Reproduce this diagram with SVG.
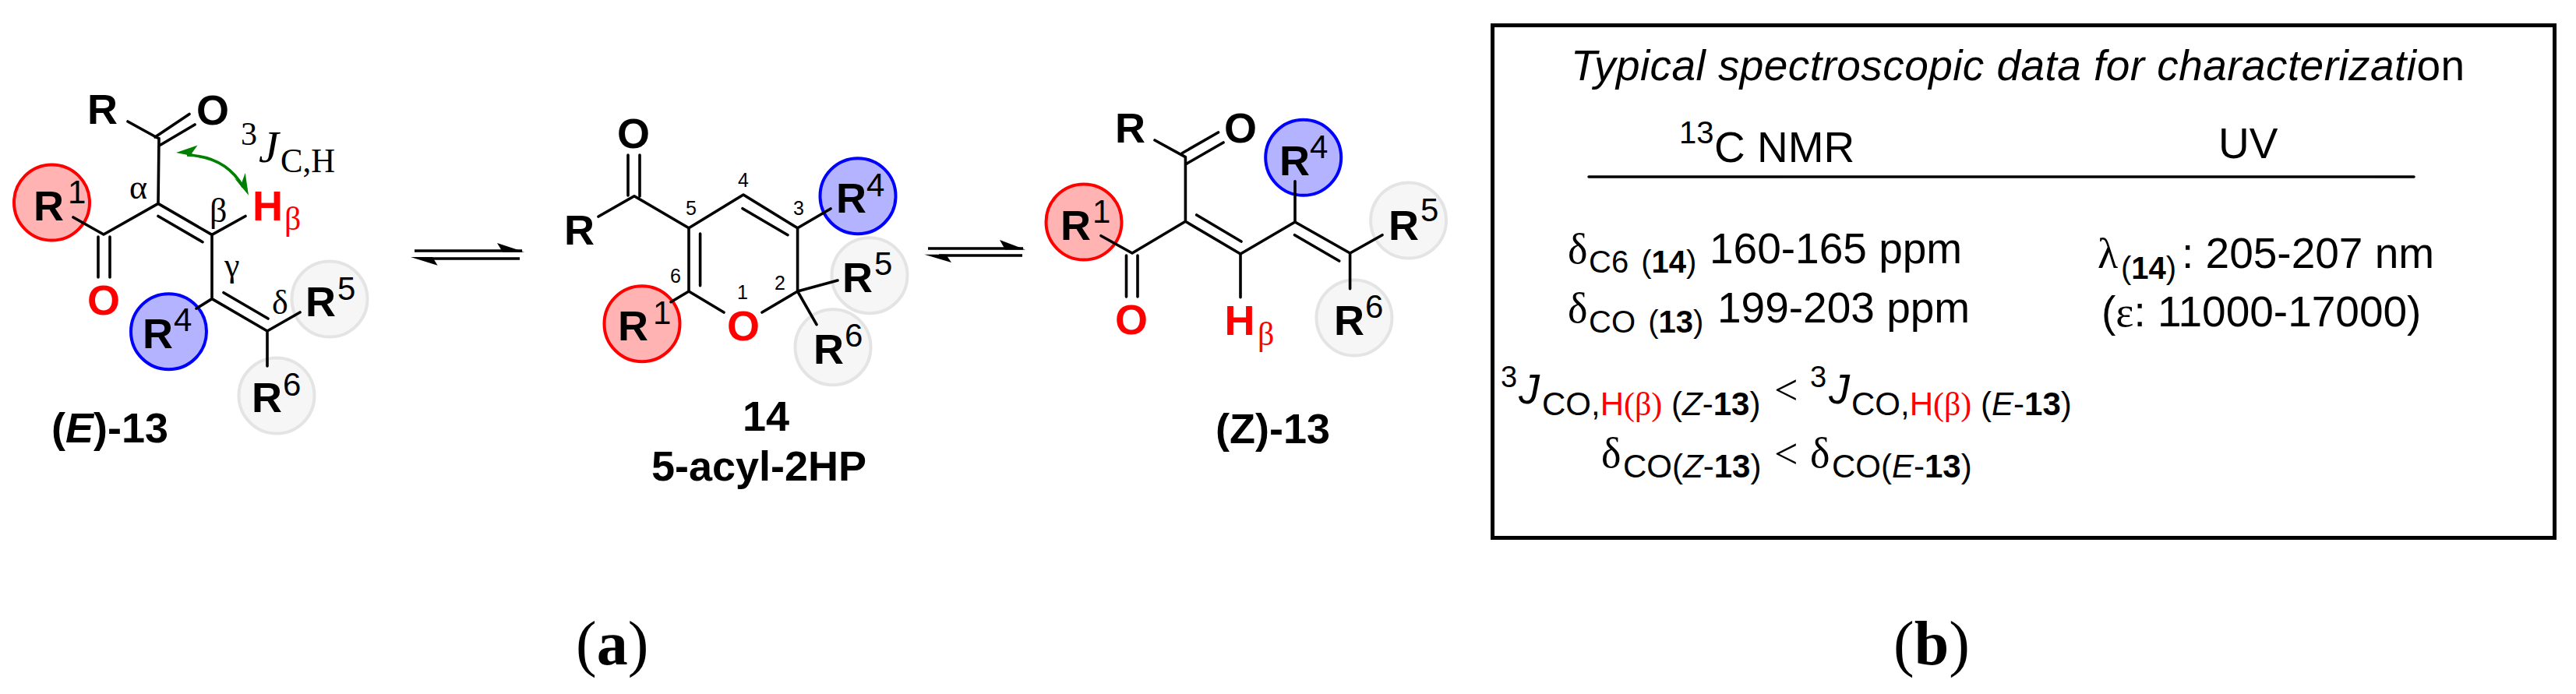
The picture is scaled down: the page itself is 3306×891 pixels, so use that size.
<svg xmlns="http://www.w3.org/2000/svg" width="3306" height="891" viewBox="0 0 3306 891">
<style>
text{font-family:"Liberation Sans",Arial,sans-serif;fill:#000}
.a{font-size:54px;font-weight:700}
.s{font-size:42px}
.c{text-anchor:middle}
.red{fill:#f00}
.g{font-family:"Liberation Serif","Times New Roman",serif;font-size:44px}
.n{font-size:25px}
.t{font-size:55px}
.sub{font-size:40px}
.sb{font-size:42px}
.sup{font-size:38px}
.i{font-style:italic}
.b{font-weight:700}
.ser{font-family:"Liberation Serif","Times New Roman",serif}
.r1{fill:#ffb3b3;stroke:#f00;stroke-width:4}
.r4{fill:#b3b3ff;stroke:#00f;stroke-width:4}
.r5{fill:#f6f6f6;stroke:#e4e4e4;stroke-width:4}
.bond{fill:none;stroke:#000;stroke-width:3.6;stroke-linecap:round;stroke-linejoin:round}
</style>

<g id="E13">
<g id="E13-R1"><circle class="r1" cx="66.5" cy="260" r="48.5"/><text class="a" x="43" y="283">R</text><text class="s" x="87" y="261">1</text></g>
<g id="E13-R4"><circle class="r4" cx="216.5" cy="425.7" r="48.5"/><text class="a" x="183" y="447">R</text><text class="s" x="223" y="425">4</text></g>
<g id="E13-R5"><circle class="r5" cx="423" cy="384" r="48.5"/><text class="a" x="392" y="406">R</text><text class="s" x="433" y="385">5</text></g>
<g id="E13-R6"><circle class="r5" cx="355" cy="508" r="48.5"/><text class="a" x="323" y="529">R</text><text class="s" x="363" y="508">6</text></g>
<g id="E13-R"><text class="a" x="112" y="159">R</text></g>
<g id="E13-O1"><text class="a" x="273" y="160" text-anchor="middle">O</text></g>
<g id="E13-O2"><text class="a red" x="133" y="404" text-anchor="middle">O</text></g>
<g id="E13-H"><text class="a red" x="324" y="283">H</text><text class="ser red" x="365" y="295" font-size="42">β</text></g>
<g id="E13-greek"><text class="g" x="166" y="255">α</text><text class="g" x="269" y="285">β</text><text class="g" x="288" y="355">γ</text><text class="g" x="349" y="403">δ</text></g>
<g id="E13-J"><text class="ser" x="309" y="186" font-size="42">3</text><text class="ser i" x="332" y="208" font-size="58">J</text><text class="ser" x="360" y="221" font-size="45" textLength="70" lengthAdjust="spacingAndGlyphs">C,H</text></g>
<g id="E13-label"><text class="a" x="66" y="568">(<tspan font-style="italic">E</tspan>)-13</text></g>
</g>

<g id="P14">
<g id="P14-R1"><circle class="r1" cx="824" cy="415.7" r="48.5"/><text class="a" x="793" y="437">R</text><text class="s" x="838" y="416">1</text></g>
<g id="P14-R4"><circle class="r4" cx="1101" cy="251.7" r="48.5"/><text class="a" x="1073" y="273">R</text><text class="s" x="1112" y="252">4</text></g>
<g id="P14-R5"><circle class="r5" cx="1116" cy="353.7" r="48.5"/><text class="a" x="1081" y="375">R</text><text class="s" x="1122" y="353">5</text></g>
<g id="P14-R6"><circle class="r5" cx="1069" cy="445.7" r="48.5"/><text class="a" x="1044" y="467">R</text><text class="s" x="1084" y="445">6</text></g>
<g id="P14-R"><text class="a" x="724" y="314">R</text></g>
<g id="P14-O1"><text class="a" x="813" y="190" text-anchor="middle">O</text></g>
<g id="P14-O2"><text class="a red" x="954" y="437" text-anchor="middle">O</text></g>
<g id="P14-numbers"><text class="n" x="947" y="240">4</text><text class="n" x="880" y="276">5</text><text class="n" x="1018" y="276">3</text><text class="n" x="860" y="363">6</text><text class="n" x="994" y="372">2</text><text class="n" x="946" y="384">1</text></g>
<g id="P14-label"><text class="a c" x="983" y="553">14</text><text class="a c" x="974" y="617">5-acyl-2HP</text></g>
</g>

<g id="Z13">
<g id="Z13-R1"><circle class="r1" cx="1391" cy="285" r="48.5"/><text class="a" x="1361" y="307.7">R</text><text class="s" x="1402" y="285.7">1</text></g>
<g id="Z13-R4"><circle class="r4" cx="1672.7" cy="202.3" r="48.5"/><text class="a" x="1642" y="225">R</text><text class="s" x="1681" y="203">4</text></g>
<g id="Z13-R5"><circle class="r5" cx="1807.6" cy="283" r="48.5"/><text class="a" x="1782" y="307.7">R</text><text class="s" x="1823" y="284">5</text></g>
<g id="Z13-R6"><circle class="r5" cx="1738" cy="408" r="48.5"/><text class="a" x="1712" y="430">R</text><text class="s" x="1752" y="408">6</text></g>
<g id="Z13-R"><text class="a" x="1431" y="183">R</text></g>
<g id="Z13-O1"><text class="a" x="1592" y="183" text-anchor="middle">O</text></g>
<g id="Z13-O2"><text class="a red" x="1452" y="429" text-anchor="middle">O</text></g>
<g id="Z13-H"><text class="a red" x="1571.5" y="430">H</text><text class="ser red" x="1614" y="443" font-size="42">β</text></g>
<g id="Z13-label"><text class="a" x="1560" y="569">(Z)-13</text></g>
</g>

<g id="connectors">
<path class="bond" d="M164 156L203 177.500M199 176L243 146.400M206 186L250 160M204 177.500L203 261.400M203 261.400L133 301L94 279M126 304V356M141 304V356M203 261.400L272 301.400M203 277.500L260 310.700M272 301.400L315 277.500M272 301.400V383.600L252 396M272 383.600L343 425M287 375.700L344 409M343 425L385 401M343 425V470"/>
<path class="bond" d="M768 278L814 251.700L884 292.700M806 199V251M821 199V252M884 292.700L954 250L1023.600 292.700M953 267.700L1011 301.700M884 292.700V374M898.600 300V366.700M884 374L929 401M884 374L861 387.700M1023.600 292.700L1066 268M1023.600 292.700V374L978 401M1023.600 374L1075 360M1023.600 374L1048 416.700"/>
<path class="bond" d="M1482 180L1521.400 201.700M1517 196.700L1563.500 170M1522 210.700L1570 183M1521.400 201.700V284.300L1453 325L1413 302.700M1445.500 328V381M1460 328V381M1521.400 284.300L1592 326M1535.700 276L1593 310M1592 326V381.700M1592 326L1662 285V232.700M1662 285L1732.600 325M1661.500 301.700L1718.700 335M1732.600 325L1774 301.700M1732.600 325V370.700"/>
<g id="coupling-arrow"><path d="M240 199Q290 201 312 240" fill="none" stroke="#008000" stroke-width="3.600"/><path d="M226 196L253.600 186.400L246 197L254.500 201.800Z" fill="#008000"/><path d="M319 250.700L314.700 222L310 235L301 229Z" fill="#008000"/></g>
<g id="equilibrium-1"><path d="M532 322H670M550 332H667" fill="none" stroke="#000" stroke-width="3.600"/><path d="M673 323.500L638 312L645 323.500Z"/><path d="M527 330L561.600 340.700L555 330Z"/></g>
<g id="equilibrium-2"><path d="M1191 319H1313M1205 328H1312" fill="none" stroke="#000" stroke-width="3.600"/><path d="M1316 320.500L1283 308L1290 320.500Z"/><path d="M1186.400 326.700L1221 337L1214 326.700Z"/></g>
</g>

<g id="panel-b">
<rect x="1915.500" y="32.500" width="1363" height="658" fill="none" stroke="#000" stroke-width="5"/>
<text class="t i" x="2016" y="102.500" font-size="55" textLength="1147">Typical spectroscopic data for characterizat<tspan>i</tspan><tspan font-style="normal">on</tspan></text>
<g id="col-nmr"><text class="sub" x="2155" y="184">13</text><text class="t" x="2200" y="207.500">C NMR</text></g>
<g id="col-uv"><text class="t" x="2847" y="203">UV</text></g>
<path d="M2039 227H3098" stroke="#000" stroke-width="3.500" stroke-linecap="round"/>
<g id="nmr-c6"><text class="ser" x="2012" y="337.500" font-size="54">δ</text><text class="sub" x="2039" y="350">C6 <tspan dx="5">(</tspan><tspan class="b">14</tspan>)</text><text class="t" x="2194" y="337.500">160-165 ppm</text></g>
<g id="nmr-co"><text class="ser" x="2012" y="413.700" font-size="54">δ</text><text class="sub" x="2039" y="427">CO <tspan dx="5">(</tspan><tspan class="b">13</tspan>)</text><text class="t" x="2204" y="413.700">199-203 ppm</text></g>
<g id="j-compare">
<text class="sup" x="1926" y="497">3</text><text class="i" x="1949" y="518" font-size="54">J</text>
<text class="sb" x="1979" y="533">CO,<tspan class="red">H</tspan><tspan class="red ser">(β)</tspan> (<tspan class="i">Z</tspan>-<tspan class="b">13</tspan>)</text>
<text class="ser" x="2277" y="519" font-size="54">&lt;</text>
<text class="sup" x="2323" y="497">3</text><text class="i" x="2347" y="518" font-size="54">J</text>
<text class="sb" x="2376" y="533">CO,<tspan class="red">H</tspan><tspan class="red ser">(β)</tspan> (<tspan class="i">E</tspan>-<tspan class="b">13</tspan>)</text>
</g>
<g id="d-compare">
<text class="ser" x="2055" y="600" font-size="54">δ</text>
<text class="sb" x="2083" y="613">CO(<tspan class="i">Z</tspan>-<tspan class="b">13</tspan>)</text>
<text class="ser" x="2277" y="601" font-size="54">&lt;</text>
<text class="ser" x="2323" y="600" font-size="54">δ</text>
<text class="sb" x="2351" y="613">CO(<tspan class="i">E</tspan>-<tspan class="b">13</tspan>)</text>
</g>
<g id="uv-lambda"><text class="ser" x="2692" y="343.500" font-size="54">λ</text><text class="sub b" x="2722" y="358"><tspan font-weight="400">(</tspan>14<tspan font-weight="400">)</tspan></text><text class="t" x="2800" y="343.500">: 205-207 nm</text></g>
<g id="uv-eps"><text class="t" x="2697" y="419">(<tspan class="ser">ε</tspan>: 11000-17000)</text></g>
</g>

<g id="captions">
<text class="ser" x="739" y="853" font-size="80">(<tspan font-weight="700">a</tspan>)</text>
<text class="ser" x="2430" y="853" font-size="80">(<tspan font-weight="700">b</tspan>)</text>
</g>
</svg>
